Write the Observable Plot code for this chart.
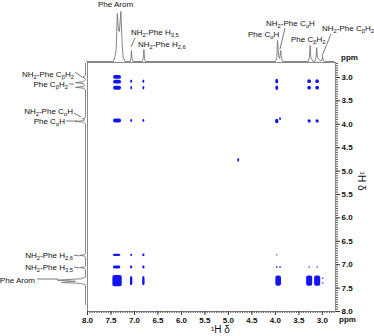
<!DOCTYPE html>
<html><head><meta charset="utf-8">
<script src="https://cdn.jsdelivr.net/npm/d3@7"></script>
<script src="https://cdn.jsdelivr.net/npm/@observablehq/plot@0.6"></script>
<style>
html,body{margin:0;padding:0;background:#fff;}
#wrap{position:relative;width:374px;height:336px;overflow:hidden;font-family:"Liberation Sans",Arial,sans-serif;color:#111;}
#wrap svg{position:absolute;left:0;top:0;}
.lbl{position:absolute;font-size:8px;line-height:9px;white-space:nowrap;}
.lbl sub{font-size:5.8px;line-height:0;vertical-align:-2px;}
.unit{position:absolute;font-size:8px;font-weight:bold;line-height:8px;}
.axl{position:absolute;font-size:10px;line-height:10px;white-space:nowrap;}
</style></head><body><div id="wrap"></div>
<script>
// ---- tick labels (ppm)
const xTicks = [8.0, 7.5, 7.0, 6.5, 6.0, 5.5, 5.0, 4.5, 4.0, 3.5, 3.0];
const yTicks = [3.0, 3.5, 4.0, 4.5, 5.0, 5.5, 6.0, 6.5, 7.0, 7.5, 8.0];

// ---- 2D cross peaks: centre (F2, F1) in ppm, extent in ppm
const peakX = [7.36,7.36,7.36,7.36,7.37,7.37,7.36,
               7.06,7.06,7.06,7.06,7.06,7.06,
               6.80,6.80,6.80,6.80,6.80,6.80,
               3.96,3.96,3.96,3.89,3.96,3.96,3.89,3.93,
               3.27,3.10,3.27,3.10,3.27,3.10,3.27,3.10,3.27,3.10,
               2.98,2.98,4.78];
const peakY = [3.00,3.10,3.23,3.93,6.80,7.06,7.35,
               3.09,3.23,3.93,6.80,7.06,7.35,
               3.09,3.23,3.93,6.80,7.06,7.35,
               3.09,3.23,3.94,3.89,6.80,7.06,7.06,7.35,
               3.09,3.09,3.23,3.23,3.94,3.94,7.06,7.06,7.35,7.35,
               7.30,7.40,4.77];
const peakW = [0.17,0.17,0.17,0.17,0.16,0.16,0.20,
               0.04,0.04,0.04,0.04,0.05,0.05,
               0.04,0.04,0.04,0.05,0.05,0.05,
               0.06,0.06,0.07,0.04,0.03,0.03,0.03,0.12,
               0.08,0.08,0.08,0.08,0.07,0.07,0.03,0.03,0.13,0.13,
               0.03,0.03,0.04];
const peakH = [0.08,0.08,0.09,0.09,0.05,0.06,0.24,
               0.07,0.07,0.06,0.05,0.06,0.20,
               0.07,0.07,0.06,0.06,0.06,0.20,
               0.10,0.10,0.10,0.06,0.03,0.04,0.04,0.22,
               0.08,0.08,0.08,0.08,0.07,0.07,0.03,0.03,0.22,0.22,
               0.03,0.03,0.08];

// ---- 1D projection on top (ppm, intensity)
const topPpm = [8.02,7.45,7.41,7.39,7.365,7.34,7.32,7.29,7.26,7.24,7.20,
                7.09,7.075,7.064,7.05,7.03,
                6.83,6.815,6.80,6.785,6.77,
                4.00,3.97,3.955,3.93,3.91,3.885,3.87,3.84,
                3.30,3.275,3.26,3.245,3.20,3.16,3.135,3.12,3.105,3.05,3.01,2.995,2.98,2.95,2.75];
const topInt = [0,0,6,12,48,31,30,50,16,4,0,
                0,3,11,3,0,
                0,3,12,3,0,
                0,4,21,6,3,11,3,0,
                0,4,16,4,0,0,4,14,4,1,1,5,1,0,0];

// ---- 1D projection on the left (ppm, intensity)
const leftPpm = [2.70,2.95,2.975,2.99,3.01,3.05,3.09,3.11,3.13,3.16,3.19,3.21,3.23,3.26,
                 3.84,3.87,3.88,3.895,3.91,3.925,3.94,3.955,3.99,
                 6.76,6.785,6.80,6.815,6.84,7.03,7.05,7.06,7.075,7.10,
                 7.26,7.30,7.33,7.355,7.38,7.40,7.44,7.85];
const leftInt = [0,0,1,3,1,0,2,10,2,1,2,10,2,0,
                 0,1,3,1,1,3,10,2,0,
                 0,1,6,1,0,0,1,6,1,0,
                 0,4,28,10,24,4,0,0];

// ---- annotation texts
const topLabels = ["Phe Arom","NH<sub>2</sub>-Phe H<sub>3,5</sub>","NH<sub>2</sub>-Phe H<sub>2,6</sub>",
                   "Phe C<sub>α</sub>H","NH<sub>2</sub>-Phe C<sub>α</sub>H","Phe C<sub>β</sub>H<sub>2</sub>",
                   "NH<sub>2</sub>-Phe C<sub>β</sub>H<sub>2</sub>"];
const leftLabels = ["NH<sub>2</sub>-Phe C<sub>β</sub>H<sub>2</sub>","Phe C<sub>β</sub>H<sub>2</sub>",
                    "NH<sub>2</sub>-Phe C<sub>α</sub>H","Phe C<sub>α</sub>H",
                    "NH<sub>2</sub>-Phe H<sub>2,6</sub>","NH<sub>2</sub>-Phe H<sub>3,5</sub>","Phe Arom"];

// ---- layout
const W = 374, H = 336, mL = 87, mR = 39, mT = 62, mB = 25;
const xDom = [8.0, 2.72], yDom = [8.0, 2.68];
const font = "Liberation Sans, Arial, sans-serif";
const wrap = document.getElementById("wrap");

const peaks = peakX.map((x, i) => ({
  x1: x + peakW[i] / 2, x2: x - peakW[i] / 2,
  y1: peakY[i] + peakH[i] / 2, y2: peakY[i] - peakH[i] / 2
}));
const minorX = d3.range(2.75, 8.001, 0.05);
const minorY = d3.range(2.7, 8.001, 0.05);

const main = Plot.plot({
  width: W, height: H, marginLeft: mL, marginRight: mR, marginTop: mT, marginBottom: mB,
  style: {fontFamily: font, fontSize: "8px", background: "transparent", color: "#111"},
  x: {domain: xDom, label: null},
  y: {domain: yDom, label: null},
  marks: [
    Plot.frame({stroke: "#8a8a8a", strokeWidth: 1}),
    Plot.rect(peaks, {x1: "x1", x2: "x2", y1: "y1", y2: "y2", fill: "#1414f2", rx: 2, ry: 2}),
    Plot.axisX(minorX, {tickSize: 2, tickFormat: () => "", stroke: "#555", label: null}),
    Plot.axisX(xTicks, {tickSize: 4, tickPadding: 2, tickFormat: d => d.toFixed(1), fontWeight: "bold", stroke: "#333", label: null}),
    Plot.axisY(minorY, {anchor: "right", tickSize: 2, tickFormat: () => "", stroke: "#555", label: null}),
    Plot.axisY(yTicks, {anchor: "right", tickSize: 4, tickPadding: 2, tickFormat: d => d.toFixed(1), fontWeight: "bold", stroke: "#333", label: null})
  ]
});
wrap.appendChild(main);

const topPlot = Plot.plot({
  width: W, height: 62, marginLeft: mL, marginRight: mR, marginTop: 0, marginBottom: 0,
  style: {background: "transparent", overflow: "visible"},
  x: {domain: xDom, axis: null},
  y: {domain: [-1, 61], axis: null},
  marks: [
    Plot.line(topPpm.map((p, i) => ({p, v: topInt[i]})), {x: "p", y: "v", stroke: "#777", strokeWidth: 0.9})
  ]
});
wrap.appendChild(topPlot);

const leftPlot = Plot.plot({
  width: 87, height: H, marginLeft: 0, marginRight: 1, marginTop: mT, marginBottom: mB,
  style: {background: "transparent", overflow: "visible"},
  x: {domain: [85, -1], axis: null},
  y: {domain: yDom, axis: null},
  marks: [
    Plot.line(leftPpm.map((p, i) => ({p, v: leftInt[i]})), {x: "v", y: "p", stroke: "#777", strokeWidth: 0.9})
  ]
});
wrap.appendChild(leftPlot);

// ---- annotation layout (pixels)
const topPos = [[98,0],[131,28],[138,40],[248,30],[266,19],[291,35],[322,24]];
const leftPos = [[74,70],[68,80],[73,107],[65,117],[73,251],[73,263],[35,276]];
topLabels.forEach((t, i) => {
  const d = document.createElement("div");
  d.className = "lbl"; d.innerHTML = t;
  d.style.left = topPos[i][0] + "px"; d.style.top = topPos[i][1] + "px";
  wrap.appendChild(d);
});
leftLabels.forEach((t, i) => {
  const d = document.createElement("div");
  d.className = "lbl"; d.innerHTML = t;
  d.style.right = (W - leftPos[i][0]) + "px"; d.style.top = leftPos[i][1] + "px";
  wrap.appendChild(d);
});
// leader lines
const leaders = [[135,38,131,47],[285,28,280,49],[331,34,322,56],
                 [75,72,82,77],[69,84,74,84],[74,113,81,117],[66,121,77,121],
                 [74,255,79,256],[74,267,79,268],[37,279,58,279]];
const ov = d3.create("svg").attr("width", W).attr("height", H);
ov.selectAll("line").data(leaders).join("line")
  .attr("x1", d => d[0]).attr("y1", d => d[1]).attr("x2", d => d[2]).attr("y2", d => d[3])
  .attr("stroke", "#555").attr("stroke-width", 0.8);
wrap.appendChild(ov.node());

function addText(cls, html, css) {
  const d = document.createElement("div");
  d.className = cls; d.innerHTML = html;
  Object.assign(d.style, css);
  wrap.appendChild(d);
}
addText("unit", "ppm", {left: "341px", top: "54px"});
addText("unit", "ppm", {left: "339px", top: "316px"});
addText("axl", "¹H δ", {left: "211px", top: "325px"});
addText("axl", "¹H δ", {left: "352px", top: "176px", transform: "rotate(90deg)", transformOrigin: "center"});
</script></body></html>
